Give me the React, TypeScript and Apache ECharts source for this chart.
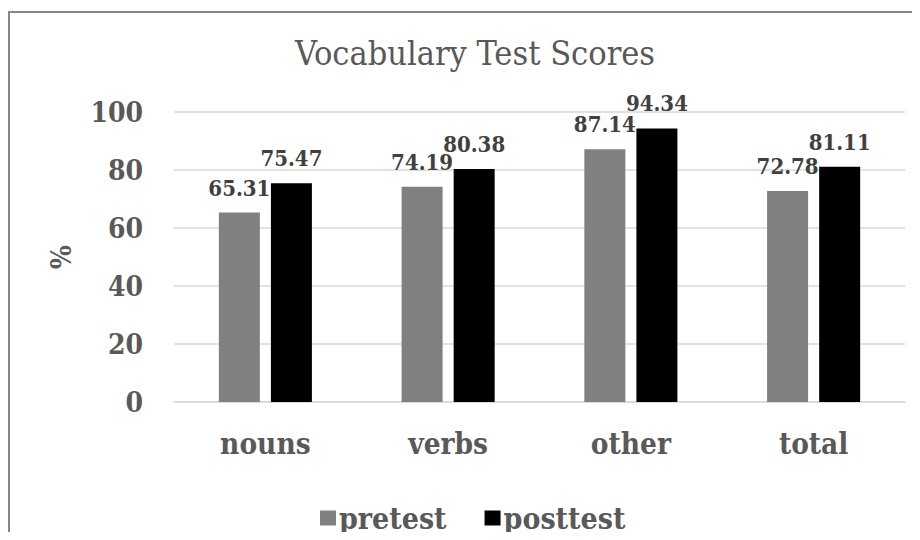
import React, { useEffect, useRef } from "react";
import * as echarts from "echarts";

const categories = ["nouns", "verbs", "other", "total"];
const pretest = [65.31, 74.19, 87.14, 72.78];
const posttest = [75.47, 80.38, 94.34, 81.11];
const seriesNames = ["pretest", "posttest"];
const yTicks = { min: 0, max: 100, interval: 20 };
const yName = "%";
const title = "Vocabulary Test Scores";

const BOLD = "'DejaVu Serif Condensed', 'Liberation Serif', serif";
const REG = "'DejaVu Serif Condensed', 'Liberation Serif', serif";

export default function App() {
  const ref = useRef<HTMLDivElement>(null);
  useEffect(() => {
    if (!ref.current) return;
    const chart = echarts.init(ref.current, undefined, { renderer: "svg" });
    const label = {
      show: true,
      position: "top" as const,
      distance: 14,
      fontFamily: BOLD,
      fontWeight: "bold" as const,
      fontSize: 22,
      color: "#404040",
      formatter: (p: any) => p.value.toFixed(2),
    };
    chart.setOption({
      animation: false,
      backgroundColor: "#fff",
      title: {
        text: title,
        left: 470,
        textAlign: "center",
        top: 31,
        textStyle: { fontFamily: REG, fontWeight: "normal", fontSize: 34, color: "#595959" },
      },
      graphic: [
        {
          type: "rect",
          shape: { x: 9, y: 12, width: 945, height: 600 },
          style: { fill: "none", stroke: "#878787", lineWidth: 2 },
          silent: true,
        },
      ],
      legend: {
        data: seriesNames,
        bottom: 2,
        left: 315,
        itemWidth: 16,
        itemHeight: 15,
        itemGap: 38,
        icon: "rect",
        textStyle: { fontFamily: BOLD, fontWeight: "bold", fontSize: 30, color: "#595959", padding: [0, 0, 0, -2] },
      },
      grid: { left: 174, right: 15, top: 112, bottom: 138, containLabel: false },
      xAxis: {
        type: "category",
        data: categories,
        axisLine: { show: true, lineStyle: { color: "#d9d9d9", width: 1.5 } },
        axisTick: { show: false },
        axisLabel: { fontFamily: BOLD, fontWeight: "bold", fontSize: 29.5, color: "#595959", margin: 26 },
      },
      yAxis: {
        type: "value",
        min: yTicks.min,
        max: yTicks.max,
        interval: yTicks.interval,
        name: yName,
        nameLocation: "middle",
        nameGap: 99,
        nameRotate: 90,
        nameTextStyle: { fontFamily: BOLD, fontWeight: "bold", fontSize: 28, color: "#595959" },
        axisLine: { show: false },
        axisTick: { show: false },
        splitLine: { lineStyle: { color: "#d9d9d9", width: 1.5 } },
        axisLabel: { fontFamily: BOLD, fontWeight: "bold", fontSize: 28, color: "#595959", margin: 31 },
      },
      series: [
        {
          name: seriesNames[0],
          type: "bar",
          data: pretest,
          barWidth: 41,
          barGap: "27%",
          itemStyle: { color: "#808080" },
          label,
        },
        {
          name: seriesNames[1],
          type: "bar",
          data: posttest,
          barWidth: 41,
          itemStyle: { color: "#000000" },
          label,
        },
      ],
    });
    return () => chart.dispose();
  }, []);
  return <div ref={ref} style={{ width: 920, height: 540, margin: -8 }} />;
}
